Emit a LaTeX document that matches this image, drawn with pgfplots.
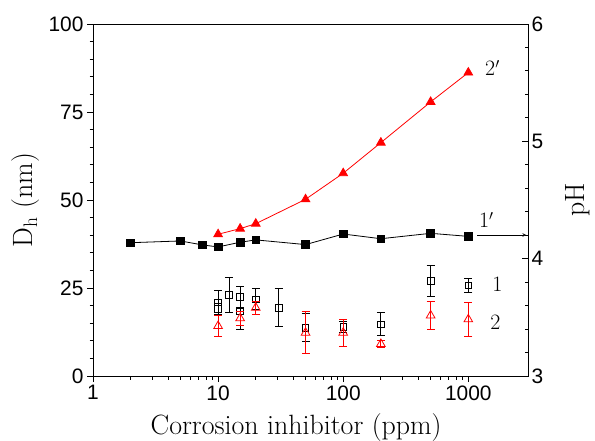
\documentclass[border=0pt]{standalone}
\usepackage{fontspec}
\usepackage{pgfplots}
\pgfplotsset{compat=1.18}
\newfontfamily\tickfont{Liberation Sans}
\begin{document}
\begin{tikzpicture}
\useasboundingbox (-93bp,-65bp) rectangle (502bp,376bp);
\begin{axis}[
  at={(0,0)}, anchor=south west,
  scale only axis, width=435bp, height=352bp,
  xmode=log, xmin=1, xmax=3000, ymin=0, ymax=100,
  xtick={1,10,100,1000}, xticklabels={1,10,100,1000},
  ytick={0,25,50,75,100}, minor y tick num=4,
  xtick pos=left, ytick pos=left,
  tick align=outside,
  major tick length=6bp, minor tick length=3.5bp,
  every tick/.style={black, line width=0.9bp},
  axis line style={line width=0.9bp},
  ticklabel style={font=\tickfont\fontsize{21}{24}\selectfont},
  /pgf/number format/assume math mode=true,
  xlabel={Corrosion inhibitor (ppm)},
  ylabel={D\textsubscript{h} (nm)},
  label style={font=\fontsize{28}{32}\selectfont},
  xlabel style={at={(axis description cs:0.467,-0.098)}, anchor=north},
  ylabel style={at={(axis description cs:-0.156,0.5)}, anchor=center},
  clip mode=individual,
]
\addplot[only marks, mark=square, mark size=3.3bp, mark options={draw=black, fill=white, line width=0.8bp},
  error bars/.cd, y dir=both, y explicit,
  error bar style={black, line width=0.8bp},
  error mark options={rotate=90, mark size=4bp, line width=0.8bp, black}]
coordinates {
(10,20.9) +- (0,3.3)
(10,19.0) +- (0,1.5)
(12.2,23.0) +- (0,5.0)
(15,22.5) +- (0,2.9)
(15,18.3) +- (0,5.2)
(20,21.8) +- (0,3.0)
(30.5,19.4) +- (0,5.4)
(50,13.7) +- (0,4.0)
(100,14.0) +- (0,1.6)
(200,14.7) +- (0,3.3)
(500,27.0) +- (0,4.4)
(1000,25.7) +- (0,2.0)
};
\addplot[only marks, mark=triangle, mark size=5bp, mark options={draw=red, fill=white, line width=0.8bp},
  error bars/.cd, y dir=both, y explicit,
  error bar style={red, line width=0.8bp},
  error mark options={rotate=90, mark size=4bp, line width=0.8bp, red}]
coordinates {
(10,14.2) +- (0,2.9)
(15,16.4) +- (0,1.9)
(20,19.4) +- (0,1.8)
(50,12.3) +- (0,6.0)
(100,12.3) +- (0,3.8)
(200,9.1) +- (0,1.1)
(500,17.2) +- (0,4.0)
(1000,16.1) +- (0,4.8)
};
\node[font=\fontsize{22}{26}\selectfont] at (axis cs:1560,87.5) {2$'$};
\node[font=\fontsize{22}{26}\selectfont] at (axis cs:1395,44.3) {1$'$};
\node[font=\fontsize{22}{26}\selectfont] at (axis cs:1707,26.1) {1};
\node[font=\fontsize{22}{26}\selectfont] at (axis cs:1645,15.3) {2};
\draw[-stealth, line width=0.7bp] (axis cs:1183,40.06) -- (axis cs:2900,40.06);
\end{axis}
\begin{axis}[
  at={(0,0)}, anchor=south west,
  scale only axis, width=435bp, height=352bp,
  xmode=log, xmin=1, xmax=3000, ymin=3, ymax=6,
  axis x line=none, axis y line*=right,
  ytick={3,4,5,6}, minor y tick num=4,
  tick align=inside,
  major tick length=6bp, minor tick length=3.5bp,
  every tick/.style={black, line width=0.9bp},
  axis line style={line width=0.9bp},
  ticklabel style={font=\tickfont\fontsize{21}{24}\selectfont},
  /pgf/number format/assume math mode=true,
  ylabel={pH},
  label style={font=\fontsize{28}{32}\selectfont},
  ylabel style={at={(axis description cs:1.115,0.5)}, anchor=center},
  clip mode=individual,
]
\addplot[black, line width=0.8bp, mark=square*, mark size=3.8bp, mark options={solid, fill=black}]
coordinates {(2,4.136) (5,4.151) (7.5,4.117) (10,4.10) (15,4.14) (20,4.16) (50,4.12) (100,4.21) (200,4.17) (500,4.216) (1000,4.19)};
\addplot[red, line width=0.8bp, mark=triangle*, mark size=5bp, mark options={solid, fill=red}]
coordinates {(10,4.208) (15,4.256) (20,4.298) (50,4.506) (100,4.728) (200,4.989) (500,5.336) (1000,5.586)};
\end{axis}
\end{tikzpicture}
\end{document}
